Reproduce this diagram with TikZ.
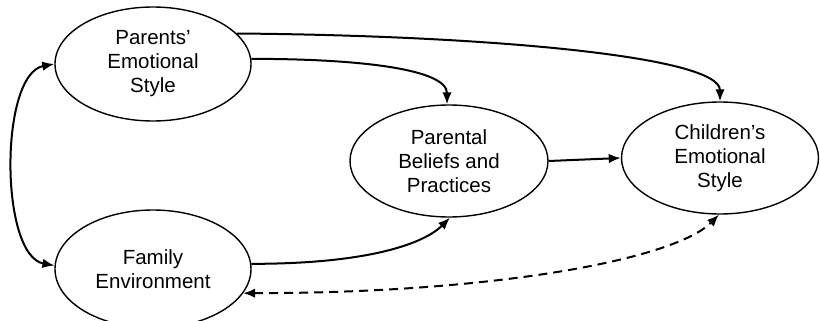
\documentclass[tikz,border=0pt]{standalone}
\usepackage{fontspec}
\setmainfont{Liberation Sans}
\usetikzlibrary{shapes.geometric,arrows.meta}
\begin{document}
\begin{tikzpicture}[x=1pt,y=-1pt,
  construct/.style={ellipse,draw,line width=1.4pt,inner sep=0pt,
    minimum width=196pt,minimum height=114pt,align=center,
    font=\fontsize{20.5}{24}\selectfont},
  tip/.tip={Latex[length=12pt,width=9.5pt]},
  link/.style={line width=2pt,-tip},
  twoway/.style={line width=2pt,tip-tip}]
\clip (0,0) rectangle (820,321);
\node[construct] (pes) at (153,64) {Parents'\\Emotional\\Style};
\node[construct,minimum height=118pt] (fam) at (153,269) {Family\\Environment};
\node[construct,minimum width=198pt,minimum height=112pt] (pbp) at (449,161) {Parental\\Beliefs and\\Practices};
\node[construct,minimum width=197pt,minimum height=112pt] (ces) at (720,158) {Children's\\Emotional\\Style};
% direct paths
\draw[link] (pes.20) .. controls +(250,2) and +(0,-45) .. (ces.90);
\draw[link] (pes.3) .. controls +(110,0) and +(0,-35) .. (pbp.92);
\draw[link] (fam.3) .. controls +(120,0) and +(-25,25) .. (pbp.-89);
\draw[link] (pbp.east) -- (ces.west);
% reciprocal links
\draw[twoway] (pes.180) .. controls +(-55,10) and +(-55,-10) .. (fam.178);
\draw[twoway,dash pattern=on 9pt off 6pt] (fam.-15) .. controls +(250,0) and +(-45,45) .. (ces.-91);
\end{tikzpicture}
\end{document}
